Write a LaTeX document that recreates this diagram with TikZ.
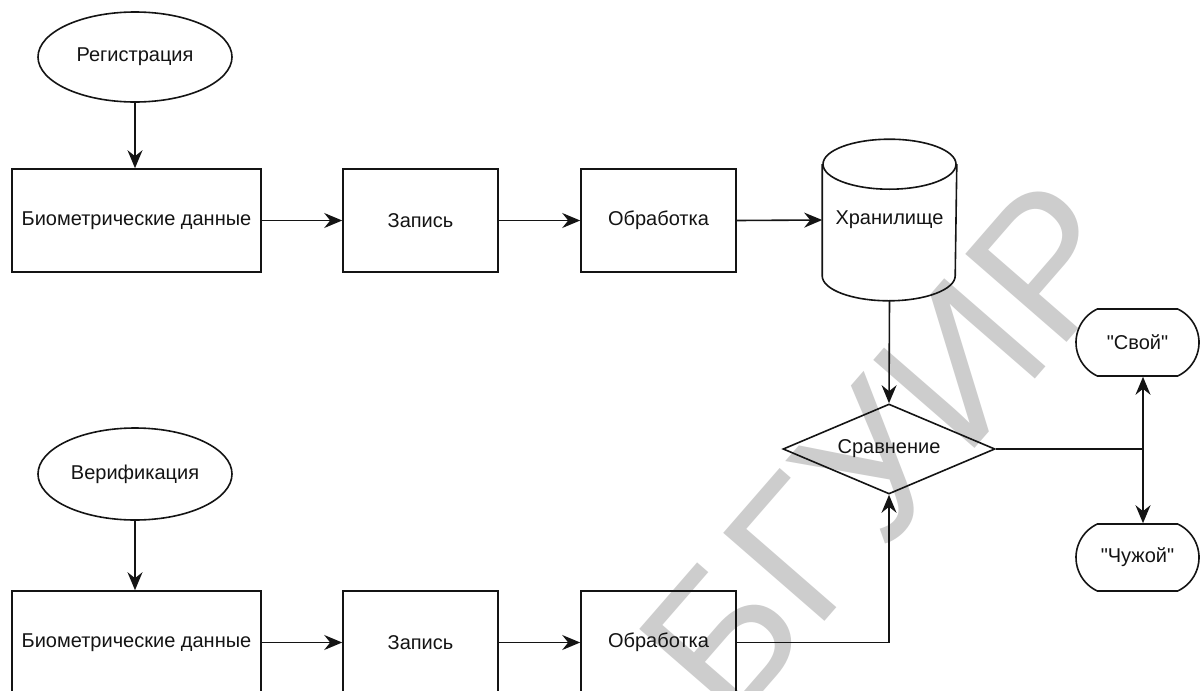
\documentclass[tikz,border=0pt]{standalone}
\usepackage{fontspec}
\setmainfont{Liberation Sans}[Ligatures=TeXOff]
\usetikzlibrary{arrows.meta,shapes.geometric,shapes.misc,calc}
\definecolor{wmgray}{RGB}{205,205,205}
\definecolor{ink}{RGB}{20,20,20}
\tikzset{
  base/.style={draw=ink, line width=1.6pt, text=ink, font=\fontsize{20}{24}\selectfont, inner sep=0pt},
  boxnode/.style={base, rectangle, minimum height=103pt},
  ovalnode/.style={base, ellipse, minimum width=194pt, minimum height=90pt},
  termnode/.style={base, rounded rectangle, rounded rectangle arc length=130, minimum width=123pt, minimum height=67pt},
  decnode/.style={base, diamond, aspect=2.36, minimum width=212pt, minimum height=90pt},
  conn/.style={draw=ink, line width=1.6pt, -{Stealth[length=18pt,width=15pt,inset=6pt]}},
  plainline/.style={draw=ink, line width=1.6pt},
  wmtext/.style={text=wmgray, font=\fontsize{195}{195}\selectfont, inner sep=0pt}
}
\begin{document}
\begin{tikzpicture}[x=1pt,y=-1pt]
\useasboundingbox (0,0) rectangle (1203,691);
\clip (0,0) rectangle (1203,691);
\fill[white] (0,0) rectangle (1203,691);
% watermark
\node[wmtext, rotate=49, anchor=base east] (wmark) at (1142,256) {БГУИР};
% top row
\node[ovalnode] (reg) at (135,57) {Регистрация};
\node[boxnode, minimum width=249pt] (bio1) at (136.5,220.5) {Биометрические данные};
\node[boxnode, minimum width=155pt] (zap1) at (420.5,220.5) {Запись};
\node[boxnode, minimum width=155pt] (obr1) at (658.5,220.5) {Обработка};
\node[base, draw=none, rectangle, minimum width=133pt, minimum height=160pt] (stor) at (889.5,220) {Хранилище};
\draw[plainline] ($(stor.north west)+(0,25)$) -- ($(stor.south west)+(0,-25)$)
   arc[start angle=180, end angle=360, x radius=66.5pt, y radius=25pt]
   -- ($(stor.north east)+(0,25)$);
\draw[plainline] ($(stor.north)+(0,25)$) ellipse[x radius=66.5pt, y radius=25pt];
% comparison and outcomes
\node[decnode] (cmp) at (889,449) {Сравнение};
\node[termnode] (svoi) at (1137.5,342.5) {"Свой"};
\node[termnode] (chuj) at (1137.5,557.5) {"Чужой"};
\coordinate (junc) at (1143,449);
% bottom row
\node[ovalnode, minimum height=92pt] (ver) at (135,474) {Верификация};
\node[boxnode, minimum width=249pt] (bio2) at (136.5,642.5) {Биометрические данные};
\node[boxnode, minimum width=155pt] (zap2) at (420.5,642.5) {Запись};
\node[boxnode, minimum width=155pt] (obr2) at (658.5,642.5) {Обработка};
% connectors
\draw[conn] (reg.south) -- (reg.south |- bio1.north);
\draw[conn] (bio1.east) -- (zap1.west);
\draw[conn] (zap1.east) -- (obr1.west);
\draw[conn] (obr1.east) -- (stor.west);
\draw[conn] (stor.south) -- (cmp.north);
\draw[plainline] (cmp.east) -- (junc);
\draw[conn] (junc) -- (junc |- svoi.south);
\draw[conn] (junc) -- (junc |- chuj.north);
\draw[conn] (ver.south) -- (ver.south |- bio2.north);
\draw[conn] (bio2.east) -- (zap2.west);
\draw[conn] (zap2.east) -- (obr2.west);
\draw[conn] (obr2.east) -| (cmp.south);
\end{tikzpicture}
\end{document}
